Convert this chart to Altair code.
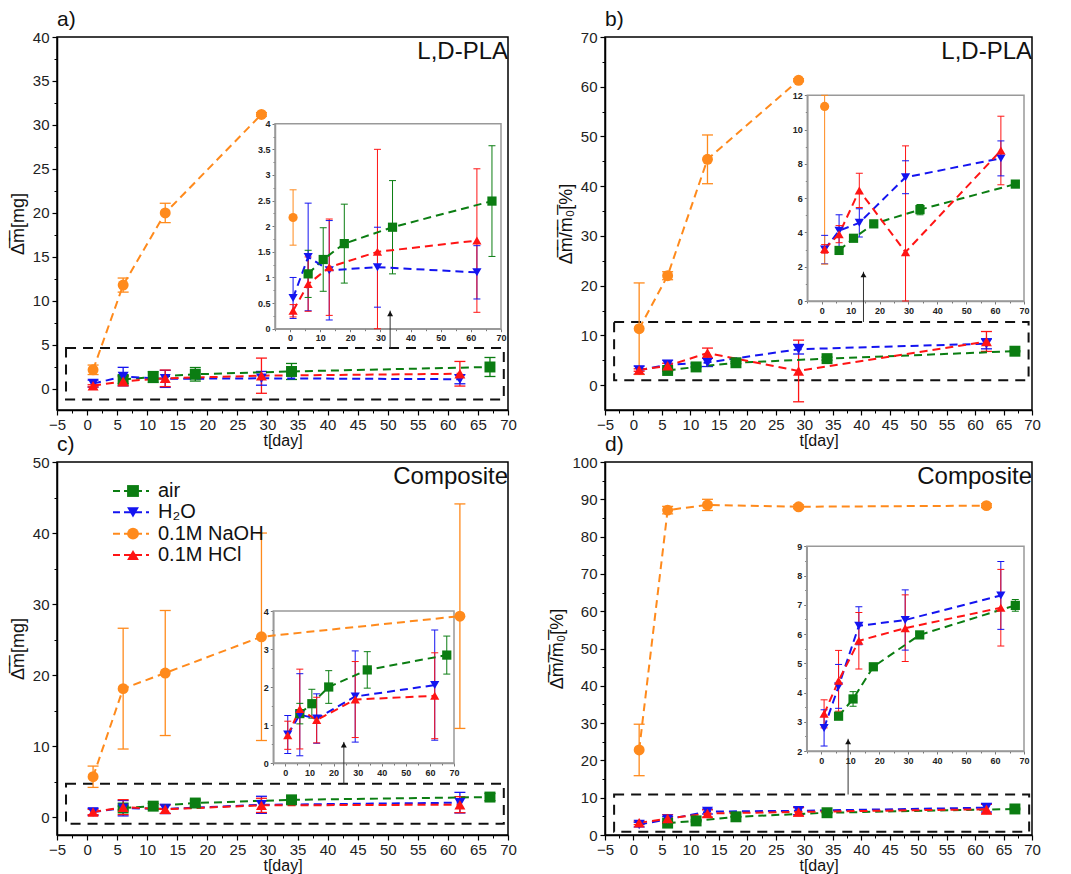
import altair as alt
import pandas as pd

SERIES = ["air", "H2O", "NaOH", "HCl"]
LABELS = ["air", "H\u2082O", "0.1M NaOH", "0.1M HCl"]
COLORS = ["#0b7d12", "#1414f0", "#ff8a1c", "#ff1414"]
SHAPES = ["square", "triangle-down", "circle", "triangle-up"]

DAYS_AIR = [6, 11, 18, 34, 67]
DAYS_H2O = [1, 6, 13, 29, 62]
DAYS_HCL = [1, 6, 13, 29, 62]
DAYS_NAOH_PLA = [1, 6, 13, 29]
DAYS_NAOH_COMP = [1, 6, 13, 29, 62]

# a) L,D-PLA  mass loss [mg]
A_AIR = [1.07, 1.35, 1.66, 1.98, 2.49]
A_AIR_ERR = [0.46, 0.62, 0.77, 0.91, 1.08]
A_H2O = [0.60, 1.40, 1.14, 1.20, 1.10]
A_H2O_ERR = [0.40, 1.05, 0.97, 0.78, 0.52]
A_NAOH = [2.17, 11.8, 20.0, 31.2]
A_NAOH_ERR = [0.54, 0.8, 1.1, 0.2]
A_HCL = [0.35, 0.87, 1.20, 1.50, 1.72]
A_HCL_ERR = [0.12, 0.53, 0.94, 2.00, 1.40]

# b) L,D-PLA  relative mass loss [%]
B_AIR = [2.95, 3.66, 4.50, 5.33, 6.82]
B_AIR_ERR = [0.15, 0.12, 0.20, 0.30, 0.12]
B_H2O = [3.00, 4.10, 4.56, 7.22, 8.32]
B_H2O_ERR = [0.83, 0.93, 0.82, 0.96, 1.02]
B_NAOH = [11.35, 22.0, 45.4, 61.3]
B_NAOH_ERR = [9.2, 0.8, 4.9, 0.3]
B_HCL = [3.04, 3.90, 6.45, 2.85, 8.78]
B_HCL_ERR = [0.25, 0.50, 1.00, 6.20, 2.00]

# c) Composite  mass loss [mg]
C_AIR = [1.30, 1.56, 2.00, 2.45, 2.84]
C_AIR_ERR = [0.27, 0.38, 0.43, 0.48, 0.50]
C_H2O = [0.75, 1.27, 1.17, 1.75, 2.05]
C_H2O_ERR = [0.50, 1.08, 0.65, 1.20, 1.45]
C_NAOH = [5.7, 18.1, 20.3, 25.4, 28.3]
C_NAOH_ERR = [1.5, 8.5, 8.8, 14.6, 15.8]
C_HCL = [0.73, 1.42, 1.13, 1.67, 1.77]
C_HCL_ERR = [0.37, 1.05, 0.60, 1.00, 1.13]

# d) Composite  relative mass loss [%]
D_AIR = [3.19, 3.78, 4.88, 5.97, 6.98]
D_AIR_ERR = [0.10, 0.25, 0.08, 0.10, 0.20]
D_H2O = [2.79, 4.21, 6.28, 6.48, 7.32]
D_H2O_ERR = [0.62, 0.75, 0.65, 1.03, 1.16]
D_NAOH = [22.8, 87.1, 88.5, 88.0, 88.3]
D_NAOH_ERR = [6.9, 1.0, 1.5, 0.5, 0.5]
D_HCL = [3.27, 4.40, 5.77, 6.20, 6.90]
D_HCL_ERR = [0.48, 1.04, 0.97, 1.14, 1.31]

# axis domains / ticks
X_DOMAIN = [-5, 70]
X_TICKS = list(range(-5, 71, 5))
X_MINOR = [v + 2.5 for v in range(-5, 70, 5)]
INSET_X_TICKS = list(range(0, 71, 10))
INSET_X_MINOR = list(range(-5, 70, 10))

FONT = "Liberation Sans"
H = 373


def sdf(days, vals, errs, name):
    return pd.DataFrame({
        "day": days, "val": vals,
        "lo": [v - e for v, e in zip(vals, errs)],
        "hi": [v + e for v, e in zip(vals, errs)],
        "series": name,
    })


def panel_df(air, air_e, h2o, h2o_e, naoh_days, naoh, naoh_e, hcl, hcl_e):
    return pd.concat([
        sdf(DAYS_AIR, air, air_e, "air"),
        sdf(DAYS_H2O, h2o, h2o_e, "H2O"),
        sdf(naoh_days, naoh, naoh_e, "NaOH"),
        sdf(DAYS_HCL, hcl, hcl_e, "HCl"),
    ], ignore_index=True)


COLOR = alt.Color("series:N", scale=alt.Scale(domain=SERIES, range=COLORS), legend=None)
SHAPE = alt.Shape("series:N", scale=alt.Scale(domain=SERIES, range=SHAPES), legend=None)


def series_layers(df, xs, ys, xax, yax, size, cap, lw, ew):
    base = alt.Chart(df)
    X = alt.X("day:Q", scale=xs, axis=xax)
    err = base.mark_rule(strokeWidth=ew).encode(
        x=X, y=alt.Y("lo:Q", scale=ys, axis=yax), y2="hi:Q", color=COLOR)
    caps = base.transform_fold(["lo", "hi"], as_=["k", "cap"]).mark_tick(
        orient="horizontal", size=cap, thickness=ew, opacity=1).encode(
        x=X, y=alt.Y("cap:Q", scale=ys, axis=yax), color=COLOR)
    line = base.mark_line(strokeDash=[8, 5], strokeWidth=lw).encode(
        x=X, y=alt.Y("val:Q", scale=ys, axis=yax), color=COLOR, detail="series:N")
    pts = base.mark_point(filled=True, size=size, opacity=1).encode(
        x=X, y=alt.Y("val:Q", scale=ys, axis=yax), color=COLOR, shape=SHAPE)
    return [err, caps, line, pts]


def minor_layer(dom_df, xs, ys, xvals, yvals, xoff, yoff, color, size):
    ax = alt.Axis(orient="bottom", offset=xoff, values=xvals, labels=False, domain=False,
                  grid=False, title=None, tickSize=size, tickColor=color, tickWidth=1)
    ay = alt.Axis(orient="left", offset=yoff, values=yvals, labels=False, domain=False,
                  grid=False, title=None, tickSize=size, tickColor=color, tickWidth=1)
    return alt.Chart(dom_df).mark_point(opacity=0).encode(
        x=alt.X("mx:Q", scale=xs, axis=ax), y=alt.Y("my:Q", scale=ys, axis=ay))


def make_panel(letter, label, df, width, ydom, yticks, yminor, ytitle, idom, iticks,
               iminor, inset_px, box, arrow, legend=False):
    mx = alt.Scale(domain=X_DOMAIN, nice=False, zero=False)
    my = alt.Scale(domain=ydom, nice=False, zero=False)
    x0, x1, yb, yt = inset_px
    ix = alt.Scale(domain=X_DOMAIN, range=[x0, x1], nice=False, zero=False)
    iy = alt.Scale(domain=idom, range=[yb, yt], nice=False, zero=False, clamp=True)

    max_x = alt.Axis(orient="bottom", values=X_TICKS, title="t[day]", grid=False,
                     labelFontSize=15, titleFontSize=16, titleFontWeight="normal",
                     tickSize=5, tickColor="black", tickWidth=1.2, domainColor="black",
                     domainWidth=1.5, labelColor="#222", labelPadding=2, titlePadding=0,
                     labelFlush=False, labelOverlap=False, titleColor="#111")
    max_y = alt.Axis(orient="left", values=yticks, title=ytitle, grid=False,
                     labelFontSize=15, titleFontSize=18, titleFontWeight="normal",
                     tickSize=5, tickColor="black", tickWidth=1.2, domainColor="black",
                     domainWidth=1.5, labelColor="#222", labelPadding=3, titlePadding=5,
                     labelFlush=False, labelOverlap=False, titleColor="#111")
    iax_x = alt.Axis(orient="bottom", offset=yb - H, values=INSET_X_TICKS, title=None,
                     grid=False, labelFontSize=9, labelFontWeight="bold", tickSize=3,
                     tickColor="#777", domainColor="#999", domainWidth=1.5,
                     labelColor="#222", labelPadding=2, labelFlush=False,
                     labelOverlap=False)
    iax_y = alt.Axis(orient="left", offset=-x0, values=iticks, title=None, format="~g",
                     grid=False, labelFontSize=9, labelFontWeight="bold", tickSize=3,
                     tickColor="#777", domainColor="#999", domainWidth=1.5,
                     labelColor="#222", labelPadding=2, labelFlush=False,
                     labelOverlap=False)

    # ---- inset layer
    frame_df = pd.DataFrame({"fx0": [X_DOMAIN[0]], "fx1": [X_DOMAIN[1]],
                             "fy0": [idom[0]], "fy1": [idom[1]]})
    frame = alt.Chart(frame_df).mark_rect(filled=False, stroke="#999", strokeWidth=1.5).encode(
        x=alt.X("fx0:Q", scale=ix, axis=iax_x), x2="fx1:Q",
        y=alt.Y("fy0:Q", scale=iy, axis=iax_y), y2="fy1:Q")
    idf = df[(df["val"] >= idom[0]) & (df["val"] <= idom[1])]
    inset = alt.layer(frame, *series_layers(idf, ix, iy, iax_x, iax_y, 85, 7, 2, 1))

    # ---- minor ticks (same domains, separate axes)
    dom_main = pd.DataFrame({"mx": X_DOMAIN, "my": ydom})
    dom_in = pd.DataFrame({"mx": X_DOMAIN, "my": idom})
    minor_main = minor_layer(dom_main,
                             alt.Scale(domain=X_DOMAIN, nice=False, zero=False),
                             alt.Scale(domain=ydom, nice=False, zero=False),
                             X_MINOR, yminor, 0, 0, "black", 3)
    minor_in = minor_layer(dom_in,
                           alt.Scale(domain=X_DOMAIN, range=[x0, x1], nice=False, zero=False),
                           alt.Scale(domain=idom, range=[yb, yt], nice=False, zero=False),
                           INSET_X_MINOR, iminor, yb - H, -x0, "#777", 2)

    # ---- main layer
    box_df = pd.DataFrame({"bx0": [box[0]], "bx1": [box[1]], "by0": [box[2]], "by1": [box[3]]})
    boxm = alt.Chart(box_df).mark_rect(filled=False, stroke="#111", strokeWidth=2,
                                       strokeDash=[10, 7]).encode(
        x=alt.X("bx0:Q", scale=mx, axis=max_x), x2="bx1:Q",
        y=alt.Y("by0:Q", scale=my, axis=max_y), y2="by1:Q")
    arr_df = pd.DataFrame({"ax": [arrow[0]], "ay0": [arrow[1]], "ay1": [arrow[2]]})
    arr = alt.Chart(arr_df).mark_rule(color="#333", strokeWidth=1).encode(
        x=alt.X("ax:Q", scale=mx, axis=max_x),
        y=alt.Y("ay0:Q", scale=my, axis=max_y), y2="ay1:Q")
    head = alt.Chart(arr_df).mark_point(shape="triangle-up", filled=True, size=35,
                                        color="#111", opacity=1, yOffset=3).encode(
        x=alt.X("ax:Q", scale=mx, axis=max_x),
        y=alt.Y("ay1:Q", scale=my, axis=max_y))
    lab = alt.Chart(pd.DataFrame({"t": [label]})).mark_text(
        align="right", baseline="middle", fontSize=24, font=FONT, color="#111").encode(
        x=alt.value(width), y=alt.value(15), text="t:N")
    main = alt.layer(boxm, arr, head,
                     *series_layers(df, mx, my, max_x, max_y, 120, 11, 2, 1.3), lab)

    layers = [inset, minor_in, minor_main, main]
    if legend:
        ldf = pd.DataFrame({"series": SERIES, "label": LABELS})
        ly = alt.Y("series:N", scale=alt.Scale(type="point", domain=SERIES,
                                              range=[29, 93], padding=0), axis=None)
        lrule = alt.Chart(ldf).mark_rule(strokeDash=[7, 4], strokeWidth=2).encode(
            x=alt.value(56), x2=alt.value(92), y=ly, color=COLOR)
        lpt = alt.Chart(ldf).mark_point(filled=True, size=140, opacity=1).encode(
            x=alt.value(76), y=ly, color=COLOR, shape=SHAPE)
        ltxt = alt.Chart(ldf).mark_text(align="left", baseline="middle", fontSize=20,
                                        font=FONT, color="#111").encode(
            x=alt.value(101), y=ly, text="label:N")
        layers.append(alt.layer(lrule, lpt, ltxt))

    return alt.layer(*layers).resolve_scale(x="independent", y="independent").properties(
        width=width, height=H,
        title=alt.TitleParams(letter, anchor="start", frame="group", fontSize=21,
                              fontWeight="normal", offset=0, font=FONT, color="#111"))


df_a = panel_df(A_AIR, A_AIR_ERR, A_H2O, A_H2O_ERR, DAYS_NAOH_PLA, A_NAOH, A_NAOH_ERR, A_HCL, A_HCL_ERR)
df_b = panel_df(B_AIR, B_AIR_ERR, B_H2O, B_H2O_ERR, DAYS_NAOH_PLA, B_NAOH, B_NAOH_ERR, B_HCL, B_HCL_ERR)
df_c = panel_df(C_AIR, C_AIR_ERR, C_H2O, C_H2O_ERR, DAYS_NAOH_COMP, C_NAOH, C_NAOH_ERR, C_HCL, C_HCL_ERR)
df_d = panel_df(D_AIR, D_AIR_ERR, D_H2O, D_H2O_ERR, DAYS_NAOH_COMP, D_NAOH, D_NAOH_ERR, D_HCL, D_HCL_ERR)

T_MASS = "\u0394\u0305m\u0305[mg]"
T_REL = "\u0394\u0305m\u0305/\u0305m\u0305\u2080\u0305[%]"

pa = make_panel("a)", "L,D-PLA", df_a, 451, [-2.4, 40], list(range(0, 41, 5)),
                [v + 2.5 for v in range(0, 40, 5)], T_MASS,
                [0, 4], [0, 0.5, 1, 1.5, 2, 2.5, 3, 3.5, 4],
                [0.25 + 0.5 * k for k in range(8)],
                (218, 444, 291.7, 86.7), (-3.5, 69.3, -1.2, 4.66), (50.4, 4.66, 8.9))
pb = make_panel("b)", "L,D-PLA", df_b, 427, [-5, 70], list(range(0, 71, 10)),
                list(range(5, 70, 10)), T_REL,
                [0, 12], list(range(0, 13, 2)), list(range(1, 12, 2)),
                (202.3, 419, 264, 58.3), (-3.4, 69.4, 1.0, 12.7), (40.4, 12.7, 22.8))
pc = make_panel("c)", "Composite", df_c, 451, [-2.5, 50], list(range(0, 51, 10)),
                list(range(5, 50, 10)), T_MASS,
                [0, 4], list(range(0, 5)), [0.5, 1.5, 2.5, 3.5],
                (216.3, 397, 301, 149), (-3.5, 69.3, -0.93, 4.7), (42.7, 4.7, 10.6),
                legend=True)
pd_ = make_panel("d)", "Composite", df_d, 427, [0, 100], list(range(0, 101, 10)),
                 list(range(5, 100, 10)), T_REL,
                 [2, 9], list(range(2, 10)), [2.5 + k for k in range(7)],
                 (201.7, 419, 289, 84.3), (-3.4, 69.5, 0.9, 10.85), (37.7, 10.85, 25.8))

chart = alt.concat(pa, pb, pc, pd_, columns=2, spacing={"row": 52, "column": 97},
                   bounds="flush").properties(
    padding={"left": 0, "top": 0, "right": 5, "bottom": 5}
).configure(font=FONT).configure_view(stroke="black", strokeWidth=1.5)

chart.save("out.html", embed_options={"renderer": "svg", "actions": False})
